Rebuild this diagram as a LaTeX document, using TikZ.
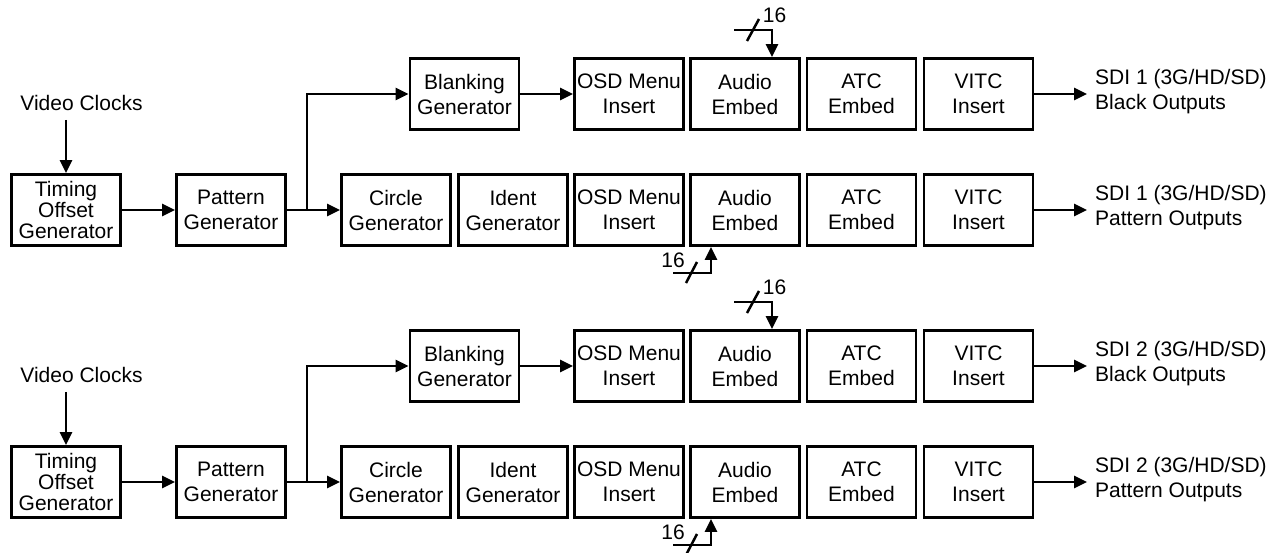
\documentclass[tikz,border=0pt]{standalone}
\usepackage{fontspec}
\setmainfont{Liberation Sans}
\usetikzlibrary{arrows.meta}
\begin{document}
\begin{tikzpicture}[x=1pt,y=-1pt,
  blk/.style={draw, line width=2.8pt, inner sep=0pt, align=center,
    minimum width=109pt, minimum height=71pt,
    font=\fontsize{21}{25}\selectfont},
  blkthree/.style={blk, font=\fontsize{21}{21}\selectfont},
  arr/.style={line width=2.7pt, -{Triangle[length=13pt,width=12pt]}},
  ln/.style={line width=2.7pt},
  slash/.style={line width=2.5pt},
  lbl/.style={font=\fontsize{21}{25}\selectfont, align=left, inner sep=0pt}]
\fill[white] (0,0) rectangle (1283,552);
\useasboundingbox (0,0) rectangle (1283,552);
\foreach \g/\dy in {1/0,2/272}{
  % input
  \node[lbl] (vc\g) at (81.5,{103+\dy}) {Video Clocks};
  \node[blkthree] (t\g) at (66,{210+\dy}) {Timing\\Offset\\Generator};
  \node[blk] (p\g) at (231,{210+\dy}) {Pattern\\Generator};
  % top row
  \node[blk] (b\g) at (464.5,{94+\dy}) {Blanking\\Generator};
  \node[blk] (oa\g) at (629,{94+\dy}) {OSD Menu\\Insert};
  \node[blk] (aa\g) at (745,{94+\dy}) {Audio\\Embed};
  \node[blk] (ta\g) at (861.5,{94+\dy}) {ATC\\Embed};
  \node[blk] (va\g) at (978.5,{94+\dy}) {VITC\\Insert};
  % bottom row
  \node[blk] (c\g) at (396,{210+\dy}) {Circle\\Generator};
  \node[blk] (i\g) at (513,{210+\dy}) {Ident\\Generator};
  \node[blk] (ob\g) at (629,{210+\dy}) {OSD Menu\\Insert};
  \node[blk] (ab\g) at (745,{210+\dy}) {Audio\\Embed};
  \node[blk] (tb\g) at (861.5,{210+\dy}) {ATC\\Embed};
  \node[blk] (vb\g) at (978.5,{210+\dy}) {VITC\\Insert};
  % outputs
  \node[lbl, anchor=west] (outa\g) at (1095,{91.5+\dy}) {SDI \g\ (3G/HD/SD)\\Black Outputs};
  \node[lbl, anchor=west] (outb\g) at (1095,{207.5+\dy}) {SDI \g\ (3G/HD/SD)\\Pattern Outputs};
  \coordinate (oea\g) at ([xshift=-8pt]outa\g.west);
  \coordinate (oeb\g) at ([xshift=-8pt]outb\g.west);
  % connectors
  \coordinate (vcs\g) at ([yshift=-9pt]vc\g.south);
  \draw[arr] (vcs\g -| t\g.north) -- (t\g.north);
  \draw[arr] (t\g.east) -- (p\g.west);
  \coordinate (j\g) at (307,{210+\dy});
  \draw[ln] (p\g.east) -- (j\g);
  \draw[arr] (j\g) -- (c\g.west);
  \draw[arr] (j\g) |- (b\g.west);
  \draw[arr] (b\g.east) -- (oa\g.west);
  \draw[arr] (va\g.east) -- (va\g.east -| oea\g);
  \draw[arr] (vb\g.east) -- (vb\g.east -| oeb\g);
  % audio bus top
  \coordinate (bta\g) at (734,{30+\dy});
  \draw[arr] (bta\g) -| ([xshift=27pt]aa\g.north);
  \draw[slash] (747,{41+\dy}) -- (759,{19+\dy});
  \node[lbl] (na\g) at (774.5,{15.5+\dy}) {16};
  % audio bus bottom
  \coordinate (btb\g) at (673,{273+\dy});
  \draw[arr] (btb\g) -| ([xshift=-34pt]ab\g.south);
  \draw[slash] (686,{283+\dy}) -- (697,{262+\dy});
  \node[lbl] (nb\g) at (673,{260+\dy}) {16};
}
\end{tikzpicture}
\end{document}
